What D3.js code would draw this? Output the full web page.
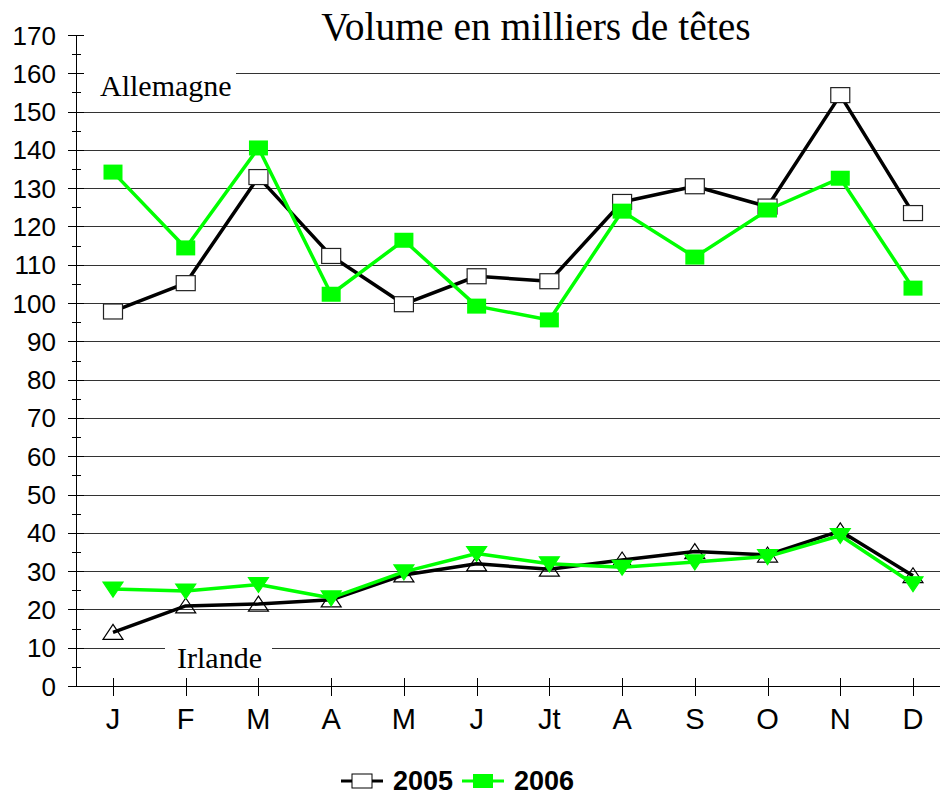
<!DOCTYPE html>
<html>
<head>
<meta charset="utf-8">
<script src="https://cdn.jsdelivr.net/npm/d3@7"></script>
<style>
  body { margin: 0; background: #fff; }
  svg { display: block; }
</style>
</head>
<body>
<div id="chart"></div>
<script>
let width = 940;
let height = 799;

/// months on the x axis
let months = ['J', 'F', 'M', 'A', 'M', 'J', 'Jt', 'A', 'S', 'O', 'N', 'D'];
let yTicks = d3.range(0, 171, 10);

/// Allemagne
let allemagne2005 = [97.8, 105.2, 132.9, 112.3, 99.7, 107, 105.7, 126.4, 130.5, 125.2, 154.3, 123.5];
let allemagne2006 = [134.2, 114.4, 140.5, 102.3, 116.4, 99.2, 95.6, 124, 112, 124.3, 132.6, 103.9];

/// Irlande
let irlande2005 = [14, 20.9, 21.4, 22.5, 29, 31.9, 30.5, 32.9, 35.1, 34.2, 40.5, 28.8];
let irlande2006 = [25.3, 24.8, 26.5, 23, 29.8, 34.6, 31.9, 31, 32.4, 33.8, 39.3, 26.7];

let green = '#00ff00';
let serif = '"Liberation Serif", "Times New Roman", serif';
let sans = '"Liberation Sans", Arial, sans-serif';

let svg = d3.select('#chart').append('svg')
  .attr('width', width).attr('height', height);

let x = d3.scalePoint().domain(d3.range(months.length)).range([113, 913]);
let y = d3.scaleLinear().domain([0, 170]).range([686, 35]);

let x0 = 76, x1 = 940;

/// gridlines
svg.append('g').selectAll('line')
  .data(yTicks.filter(function(d) { return d > 0 && d < 170; }))
  .enter().append('line')
  .attr('x1', x0).attr('x2', x1)
  .attr('y1', function(d) { return Math.round(y(d)) + 0.5; })
  .attr('y2', function(d) { return Math.round(y(d)) + 0.5; })
  .attr('stroke', '#333').attr('stroke-width', 1);

/// labels with white background (cover gridlines)
svg.append('rect').attr('x', 84).attr('y', 66).attr('width', 152).attr('height', 36).attr('fill', '#fff');
svg.append('text').attr('x', 100).attr('y', 96)
  .attr('font-family', serif)
  .attr('font-size', 30).text('Allemagne');

svg.append('rect').attr('x', 165).attr('y', 640).attr('width', 107).attr('height', 34).attr('fill', '#fff');
svg.append('text').attr('x', 177).attr('y', 668)
  .attr('font-family', serif)
  .attr('font-size', 30).text('Irlande');

/// y axis
let yAxis = svg.append('g');
yAxis.append('line')
  .attr('x1', x0 + 0.5).attr('x2', x0 + 0.5)
  .attr('y1', y(170)).attr('y2', y(0))
  .attr('stroke', '#000');
yAxis.selectAll('.major')
  .data(yTicks).enter().append('line')
  .attr('x1', 68).attr('x2', 84)
  .attr('y1', function(d) { return Math.round(y(d)) + 0.5; })
  .attr('y2', function(d) { return Math.round(y(d)) + 0.5; })
  .attr('stroke', '#000');
yAxis.selectAll('.minor')
  .data(d3.range(5, 170, 10)).enter().append('line')
  .attr('x1', 72).attr('x2', 81)
  .attr('y1', function(d) { return Math.round(y(d)) + 0.5; })
  .attr('y2', function(d) { return Math.round(y(d)) + 0.5; })
  .attr('stroke', '#000');
yAxis.selectAll('text')
  .data(yTicks).enter().append('text')
  .attr('x', 56)
  .attr('y', function(d) { return y(d) + 9.5; })
  .attr('text-anchor', 'end')
  .attr('font-family', sans)
  .attr('font-size', 26)
  .text(function(d) { return d; });

/// x axis
let xAxis = svg.append('g');
xAxis.append('line')
  .attr('x1', 68).attr('x2', x1)
  .attr('y1', 686.5).attr('y2', 686.5)
  .attr('stroke', '#000');
xAxis.selectAll('.tick')
  .data(months).enter().append('line')
  .attr('x1', function(d, i) { return Math.round(x(i)) + 0.5; })
  .attr('x2', function(d, i) { return Math.round(x(i)) + 0.5; })
  .attr('y1', 678).attr('y2', 696)
  .attr('stroke', '#000');
xAxis.selectAll('text')
  .data(months).enter().append('text')
  .attr('x', function(d, i) { return x(i); })
  .attr('y', 729)
  .attr('text-anchor', 'middle')
  .attr('font-family', sans)
  .attr('font-size', 29)
  .text(function(d) { return d; });

/// title
svg.append('text').attr('x', 536).attr('y', 40)
  .attr('text-anchor', 'middle')
  .attr('font-family', serif)
  .attr('font-size', 39.5)
  .text('Volume en milliers de têtes');

let line = d3.line()
  .x(function(d, i) { return x(i); })
  .y(function(d) { return y(d); });

function drawLine(data, color) {
  svg.append('path').datum(data)
    .attr('d', line)
    .attr('fill', 'none')
    .attr('stroke', color)
    .attr('stroke-width', 3.5)
    .attr('stroke-linejoin', 'round');
}

function drawSquares(data, fill, stroke) {
  svg.append('g').selectAll('rect')
    .data(data).enter().append('rect')
    .attr('x', function(d, i) { return x(i) - 9.5; })
    .attr('y', function(d) { return y(d) - 7.5; })
    .attr('width', 19).attr('height', 15)
    .attr('fill', fill)
    .attr('stroke', stroke).attr('stroke-width', stroke === 'none' ? 0 : 1.2);
}

function drawTriangles(data, fill, stroke, down) {
  svg.append('g').selectAll('path')
    .data(data).enter().append('path')
    .attr('d', function() {
      /// flat triangle, ~20 wide and 15 high
      return down ? 'M-10,-7L10,-7L0,8Z' : 'M-10,7L10,7L0,-8Z';
    })
    .attr('transform', function(d, i) { return 'translate(' + x(i) + ',' + y(d) + ')'; })
    .attr('fill', fill)
    .attr('stroke', stroke).attr('stroke-width', 1.2);
}

/// Irlande
drawLine(irlande2005, '#000');
drawTriangles(irlande2005, 'none', '#000', false);
drawLine(irlande2006, green);
drawTriangles(irlande2006, green, green, true);

/// Allemagne
drawLine(allemagne2005, '#000');
drawSquares(allemagne2005, '#fff', '#222');
drawLine(allemagne2006, green);
drawSquares(allemagne2006, green, 'none');

/// legend
let legend = svg.append('g');
let legendItems = [
  { label: '2005', color: '#000', fill: '#fff', x: 341 },
  { label: '2006', color: green, fill: green, x: 462 }
];
legendItems.forEach(function(item) {
  legend.append('line')
    .attr('x1', item.x).attr('x2', item.x + 42)
    .attr('y1', 781).attr('y2', 781)
    .attr('stroke', item.color).attr('stroke-width', 3);
  legend.append('rect')
    .attr('x', item.x + 11).attr('y', 774)
    .attr('width', 20).attr('height', 14)
    .attr('fill', item.fill)
    .attr('stroke', item.fill === '#fff' ? '#000' : 'none');
  legend.append('text')
    .attr('x', item.x + 52).attr('y', 790)
    .attr('font-family', sans)
    .attr('font-weight', 'bold')
    .attr('font-size', 27)
    .text(item.label);
});
</script>
</body>
</html>
